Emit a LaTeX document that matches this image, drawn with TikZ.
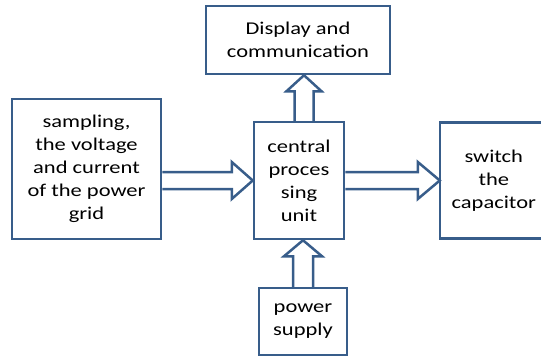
\documentclass[tikz,border=0pt]{standalone}
\usepackage{fontspec}
\setmainfont{Carlito}[FakeStretch=1.25]
\usepackage{tikz}
\usetikzlibrary{calc}
\definecolor{boxblue}{RGB}{56,93,138}
\tikzset{
  txt/.style={align=center, inner sep=0pt, font=\fontsize{18}{23}\selectfont},
  box/.style={txt, draw=boxblue, line width=2.5pt, fill=white},
  fatarrow/.style={draw=boxblue, line width=2.5pt, line join=miter, fill=white}
}

\begin{document}
\begin{tikzpicture}[x=1pt,y=-1pt]
        % Figure 1
        \useasboundingbox (0,0) rectangle (541,356);
        \node[box, minimum width=184pt, minimum height=68pt] (display) at (298,40) {Display and\\communication};
        \node[box, minimum width=149pt, minimum height=140pt] (sampling) at (86.5,169) {sampling,\\the voltage\\and current\\of the power\\grid};
        \node[box, minimum width=90pt, minimum height=117pt] (cpu) at (299,180.5) {central\\proces\\sing\\unit};
        % box runs past the right edge of the picture
        \node[txt, minimum width=128pt, minimum height=116pt] (switch) at (504,180.5) {};
        \draw[fatarrow, fill=none] (switch.north east) -- (switch.north west) -- (switch.south west) -- (switch.south east);
        \node[txt] (switchtext) at ($(switch.west)+(54,0)$) {switch\\the\\capacitor};
        \node[box, minimum width=88pt, minimum height=67pt] (power) at (303,321.5) {power\\supply};
        % sampling -> cpu
        \coordinate (a) at (sampling.east |- cpu.west);
        \draw[fatarrow] ($(a)+(0,-8.5)$) -- ($(cpu.west)+(-21,-8.5)$) -- ($(cpu.west)+(-21,-18.5)$)
          -- (cpu.west) -- ($(cpu.west)+(-21,18.5)$) -- ($(cpu.west)+(-21,8.5)$) -- ($(a)+(0,8.5)$);
        % cpu -> switch
        \draw[fatarrow] ($(cpu.east)+(0,-8.5)$) -- ($(switch.west)+(-22,-8.5)$) -- ($(switch.west)+(-22,-18.5)$)
          -- (switch.west) -- ($(switch.west)+(-22,18.5)$) -- ($(switch.west)+(-22,8.5)$) -- ($(cpu.east)+(0,8.5)$);
        % cpu -> display
        \coordinate (b) at ($(cpu.north)+(5,0)$);
        \coordinate (c) at (b |- display.south);
        \draw[fatarrow] ($(b)+(-9.5,0)$) -- ($(c)+(-9.5,16)$) -- ($(c)+(-17.5,16)$)
          -- (c) -- ($(c)+(17.5,16)$) -- ($(c)+(9.5,16)$) -- ($(b)+(9.5,0)$);
        % power -> cpu
        \coordinate (d) at (power.north |- cpu.south);
        \draw[fatarrow] ($(power.north)+(-10,0)$) -- ($(d)+(-10,16)$) -- ($(d)+(-19,16)$)
          -- (d) -- ($(d)+(19,16)$) -- ($(d)+(10,16)$) -- ($(power.north)+(10,0)$);
    \end{tikzpicture}
\end{document}
